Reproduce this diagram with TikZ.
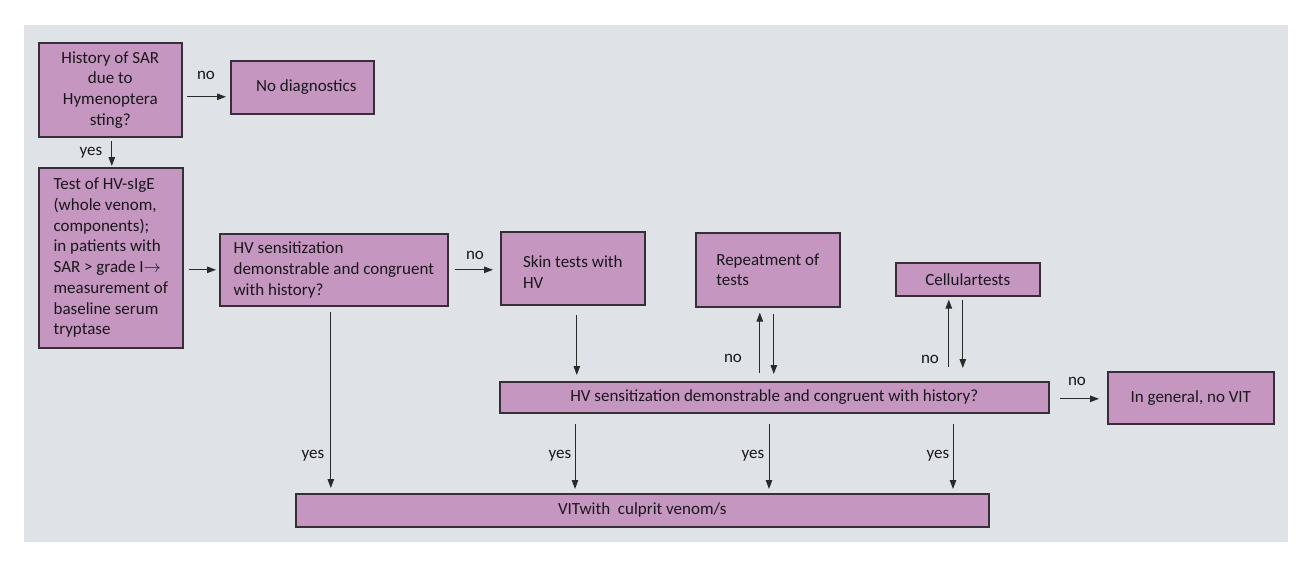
\documentclass[tikz,border=0pt]{standalone}
\usepackage{fontspec}
\setmainfont{Carlito}
\usetikzlibrary{arrows.meta,calc}
\definecolor{bgc}{HTML}{DFE3E7}
\definecolor{boxc}{HTML}{C597C0}
\definecolor{edgec}{HTML}{382E38}
\definecolor{txtc}{HTML}{1A161D}
\definecolor{arrc}{HTML}{2A2A2A}
\begin{document}
\begin{tikzpicture}[x=1pt,y=-1pt,
  box/.style={draw=edgec, fill=boxc, line width=1.6pt, text=txtc,
    font=\fontsize{17}{20.7}\selectfont, inner sep=0pt, anchor=north west},
  arr/.style={draw=arrc, line width=1pt, -{Triangle[length=9pt,width=6.5pt]}},
  lbl/.style={text=txtc, font=\fontsize{17}{20.7}\selectfont, inner sep=0pt}]
\useasboundingbox (0,0) rectangle (1309,566);
\fill[bgc] (24,25) rectangle (1288,542);

\node[box, minimum width=143pt, minimum height=94pt, align=center] (b1) at (38,42)
  {History of SAR\\due to\\Hymenoptera\\sting?};
\node[box, minimum width=143pt, minimum height=53pt] (nd) at (230,60) {\hspace{8pt}No diagnostics};
\node[box, minimum width=144pt, minimum height=180pt, align=left] (b2) at (38,167)
  {Test of HV-sIgE\\(whole venom,\\components);\\in patients with\\SAR > grade I$\rightarrow$\\measurement of\\baseline serum\\tryptase};
\node[box, minimum width=228pt, minimum height=72pt, align=left] (b3) at (219,233)
  {HV sensitization\\demonstrable and congruent\\with history?};
\node[box, minimum width=144pt, minimum height=73pt, align=left] (skin) at (500,231)
  {\rule{0pt}{20pt}Skin tests with\\HV};
\node[box, minimum width=144pt, minimum height=74pt, align=left] (rep) at (695,232)
  {Repeatment of\\tests};
\node[box, minimum width=144pt, minimum height=33pt] (cell) at (895,262) {Cellulartests};
\node[box, minimum width=549pt, minimum height=31pt] (hv2) at (499,381)
  {HV sensitization demonstrable and congruent with history?};
\node[box, minimum width=166pt, minimum height=52pt] (nvit) at (1107,371) {In general, no VIT};
\node[box, minimum width=693pt, minimum height=33pt] (vit) at (295,493)
  {VITwith\ \ culprit venom/s\hspace{34pt}};

% connectors
\draw[arr] ($(b1.east)+(4,7)$) -- ($(b1.east -| nd.west)+(-4,7)$);
\node[lbl] (l1) at (206,75) {no};
\draw[arr] ($(b1.south)+(1.5,3)$) -- ($(b1.south |- b2.north)+(1.5,-1)$);
\node[lbl] (l2) at (91,153) {yes};
\draw[arr] ($(b2.east)+(5,12)$) -- ($(b3.west)+(-3,0)$);
\draw[arr] ($(b3.east)+(6,0)$) -- ($(b3.east -| skin.west)+(-7,0)$);
\node[lbl] (l3) at (475,255) {no};
\draw[arr] ($(skin.south)+(4,9)$) -- ($(skin.south |- hv2.north)+(4,-6)$);
\draw[arr] ($(rep.south |- hv2.north)+(-8,-8)$) -- ($(rep.south)+(-8,5)$);
\draw[arr] ($(rep.south)+(6,6)$) -- ($(rep.south |- hv2.north)+(6,-7)$);
\node[lbl] (l4) at (733,358) {no};
\draw[arr] ($(cell.south |- hv2.north)+(-19,-14)$) -- ($(cell.south)+(-19,3)$);
\draw[arr] ($(cell.south)+(-5,3)$) -- ($(cell.south |- hv2.north)+(-5,-13)$);
\node[lbl] (l5) at (930,359) {no};
\draw[arr] ($(hv2.east)+(10,1.5)$) -- ($(hv2.east -| nvit.west)+(-8,1.5)$);
\node[lbl] (l6) at (1077,381) {no};
\draw[arr] ($(b3.south)+(-3,5)$) -- ($(b3.south |- vit.north)+(-3,-5)$);
\node[lbl] (l7) at (313,456) {yes};
\draw[arr] ($(hv2.south west)+(76,10)$) -- ($(hv2.south west |- vit.north)+(76,-4)$);
\node[lbl] (l8) at (560,456) {yes};
\draw[arr] ($(hv2.south west)+(270,10)$) -- ($(hv2.south west |- vit.north)+(270,-4)$);
\node[lbl] (l9) at (753,456) {yes};
\draw[arr] ($(hv2.south west)+(454,10)$) -- ($(hv2.south west |- vit.north)+(454,-4)$);
\node[lbl] (l10) at (938,456) {yes};
\end{tikzpicture}
\end{document}
